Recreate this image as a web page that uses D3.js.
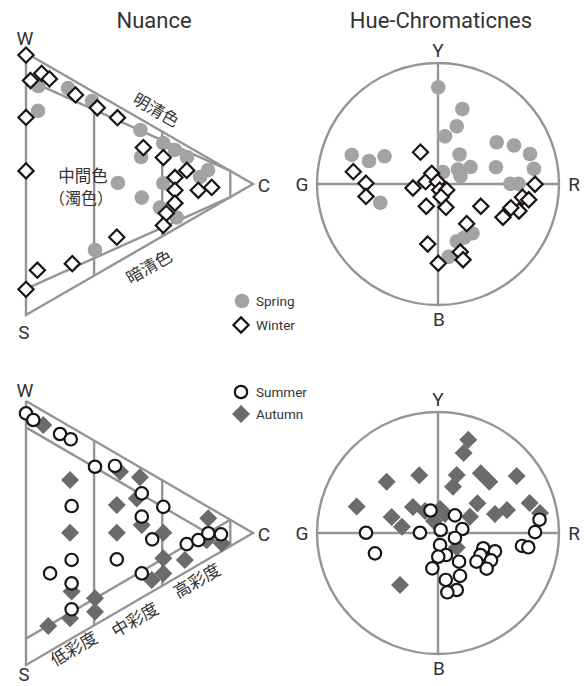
<!DOCTYPE html>
<html><head><meta charset="utf-8">
<script src="https://cdn.jsdelivr.net/npm/d3@7"></script>
<style>
html,body{margin:0;padding:0;background:#fff;}
svg{display:block;}
</style></head>
<body>
<svg id="chart" width="588" height="686"></svg>
<script>
// ---------------- DATA ----------------
// Triangles: c = chroma share (0 at W–S edge, 100 at C), l = lightness (0 at S, 100 at W)
const springTri = [[5.4,87.4],[5.3,77.9],[18.5,86.6],[29.1,81.7],[50.4,70.6],[50.7,60.3],[60.5,65.6],[65.6,63.0],[70.9,60.3],[80.2,55.3],[76.7,52.7],[40.5,50.4],[51.0,44.8],[60.5,50.3],[59.0,41.0],[66.4,37.2],[30.4,24.8]];
const winterTri = [[0,99.2],[2.0,89.5],[6.9,92.2],[10.3,90.1],[0,75.4],[0,55.0],[21.8,84.0],[31.4,79.1],[40.3,75.3],[51.7,63.9],[60.5,60.1],[70.8,55.2],[65.6,52.5],[65.6,47.6],[65.6,42.7],[61.8,38.8],[60.5,34.2],[75.9,47.6],[81.8,48.7],[40.0,29.7],[20.4,19.6],[5.0,17.1],[0,9.8]];
const summerTri = [[0,95.3],[3.2,92.8],[15.0,87.5],[19.7,85.5],[30.4,75.1],[39.2,75.4],[51.0,65.0],[60.5,59.9],[51.0,56.2],[55.6,47.6],[70.8,45.8],[75.9,47.3],[80.3,49.9],[85.9,49.5],[20.1,60.2],[20.1,39.8],[10.6,34.7],[20.1,30.9],[20.1,21.1],[40.0,40.0],[51.0,34.7]];
const autumnTri = [[7.6,90.9],[41.4,73.2],[19.4,70.1],[50.2,71.1],[48.8,63.1],[40.0,60.6],[19.4,50.1],[40.0,50.1],[51.0,53.0],[60.5,50.1],[80.3,55.6],[79.6,47.3],[86.2,46.1],[70.0,39.8],[60.5,40.4],[60.5,34.7],[55.4,32.2],[20.1,27.8],[30.4,25.3],[30.4,20.2],[19.4,17.7],[9.8,14.8]];
// Hue circles: a = R(+)/G(-) axis, b = Y(+)/B(-) axis, radius = 100
const springHue = [[0.2,79.9],[20.1,62.0],[15.5,47.7],[5.8,39.4],[17.8,24.4],[4.1,9.9],[16.5,12.0],[18.6,6.6],[26.9,14.0],[48.5,34.5],[62.8,31.8],[76.0,24.8],[79.3,12.6],[47.9,13.9],[59.9,0.2],[66.4,0.2],[-71.3,24.0],[-57.0,19.0],[-44.2,22.9],[-47.7,-15.5],[28.5,-40.7],[21.7,-44.2],[15.5,-47.3],[8.9,-60.1]];
const winterHue = [[-14.5,26.3],[-70.0,10.2],[-59.5,0.6],[-59.5,-10.3],[-20.7,-3.3],[-10.3,1.9],[-5.2,8.8],[-0.4,1.9],[1.4,-5.0],[7.2,-5.0],[2.6,-10.7],[-9.7,-18.4],[6.6,-19.3],[35.4,-18.4],[23.7,-32.8],[-8.5,-49.6],[0.2,-65.5],[18.4,-56.2],[20.7,-62.6],[80.2,-0.2],[69.8,-10.9],[75.0,-13.0],[66.9,-22.3],[60.2,-19.7],[53.7,-27.5]];
const autumnHue = [[25.0,77.1],[21.2,66.1],[-42.4,42.4],[-15.5,47.7],[15.5,47.9],[12.4,38.3],[35.4,49.3],[42.4,42.4],[65.0,47.1],[-67.2,21.9],[-38.3,13.2],[-29.8,5.2],[-20.7,21.5],[-10.7,18.2],[1.7,19.8],[5.8,15.7],[-3.3,9.9],[32.6,24.5],[26.4,13.5],[47.1,15.7],[57.0,19.0],[75.8,24.8],[84.3,16.5],[15.5,-12.0],[-31.4,-43.0]];
const summerHue = [[-6.2,18.6],[14.0,14.6],[20.1,3.3],[14.0,-4.1],[2.2,2.5],[-14.9,0.2],[-59.5,0.2],[-52.1,-16.8],[1.7,-9.9],[6.6,-18.2],[0.2,-19.6],[-4.7,-29.2],[17.4,-23.7],[18.2,-35.5],[6.4,-38.8],[15.5,-47.1],[7.7,-49.0],[37.4,-12.6],[47.1,-15.1],[35.1,-18.2],[31.8,-23.7],[43.8,-22.6],[40.2,-29.5],[69.4,-10.7],[74.6,-11.8],[80.2,0.7],[83.9,11.0]];

const titles = ["Nuance", "Hue-Chromaticnes"];
const triVertexLabels = ["W", "S", "C"];
const hueAxisLabels = ["Y", "B", "G", "R"];
const nuanceLabels = ["明清色", "暗清色", "中間色", "（濁色）"];
const chromaLabels = ["低彩度", "中彩度", "高彩度"];
const legendTop = ["Spring", "Winter"];
const legendBottom = ["Summer", "Autumn"];

// ---------------- DRAWING ----------------
const svg = d3.select("#chart");
const LINE = "#959595", TXT = "#333";
const LAT = "'Roboto', 'Liberation Sans', sans-serif";
const JP = "'Noto Sans CJK JP', sans-serif";

function diamond(x, y, h) { return `M${x},${y-h}L${x+h},${y}L${x},${y+h}L${x-h},${y}Z`; }

function triangle(g, x0, x1, yBottom, yTop, lines) {
  const x = d3.scaleLinear().domain([0, 100]).range([x0, x1]);
  const y = d3.scaleLinear().domain([0, 100]).range([yBottom, yTop]);
  const line = d3.line().x(d => x(d[0])).y(d => y(d[1]));
  const segs = [[[0,100],[100,50],[0,0],[0,100]], ...lines];
  g.selectAll("path.grid").data(segs).join("path").attr("class","grid")
    .attr("d", line).attr("fill","none").attr("stroke", LINE).attr("stroke-width", 2.4);
  return {x, y};
}

// ---- Top-left triangle (Nuance) ----
const gT1 = svg.append("g");
const t1 = triangle(gT1, 26, 253, 315, 53, [
  [[0,90],[90,55]], [[0,10],[90,45]],
  [[30,78.3],[30,15]], [[60,70],[60,30]], [[90,55],[90,45]]
]);
// ---- Bottom-left triangle ----
const gT2 = svg.append("g");
const t2 = triangle(gT2, 26, 253, 665, 401, [
  [[0,90],[90,45]], [[0,10],[90,55]],
  [[30,85],[30,15]], [[60,70],[60,30]], [[90,55],[90,45]]
]);

// ---- Hue circles ----
function hueCircle(g, cx, cy, r) {
  const a = d3.scaleLinear().domain([-100, 100]).range([cx - r, cx + r]);
  const b = d3.scaleLinear().domain([-100, 100]).range([cy + r, cy - r]);
  g.append("circle").attr("cx", a(0)).attr("cy", b(0)).attr("r", a(100) - a(0))
    .attr("fill","none").attr("stroke", LINE).attr("stroke-width", 2.4);
  g.append("line").attr("x1", a(-100)).attr("x2", a(100)).attr("y1", b(0)).attr("y2", b(0))
    .attr("stroke", LINE).attr("stroke-width", 2.4);
  g.append("line").attr("x1", a(0)).attr("x2", a(0)).attr("y1", b(100)).attr("y2", b(-100))
    .attr("stroke", LINE).attr("stroke-width", 2.4);
  return {a, b};
}
const gC1 = svg.append("g");
const c1 = hueCircle(gC1, 438, 184, 121);
const gC2 = svg.append("g");
const c2 = hueCircle(gC2, 438, 533, 121);

// marker helpers
function greyDots(g, data, sx, sy) {
  g.append("g").selectAll("circle").data(data).join("circle")
    .attr("cx", d => sx(d[0])).attr("cy", d => sy(d[1])).attr("r", 7.3)
    .attr("fill", "#a3a3a3");
}
function openDiamonds(g, data, sx, sy) {
  g.append("g").selectAll("path").data(data).join("path")
    .attr("d", d => diamond(sx(d[0]), sy(d[1]), 7.6))
    .attr("fill", "#fff").attr("stroke", "#1a1414").attr("stroke-width", 2.2);
}
function darkDiamonds(g, data, sx, sy) {
  g.append("g").selectAll("path").data(data).join("path")
    .attr("d", d => diamond(sx(d[0]), sy(d[1]), 9))
    .attr("fill", "#6b6b6b");
}
function openCircles(g, data, sx, sy) {
  g.append("g").selectAll("circle").data(data).join("circle")
    .attr("cx", d => sx(d[0])).attr("cy", d => sy(d[1])).attr("r", 6.2)
    .attr("fill", "#fff").attr("stroke", "#1a1414").attr("stroke-width", 2.2);
}

greyDots(gT1, springTri, t1.x, t1.y);
openDiamonds(gT1, winterTri, t1.x, t1.y);
greyDots(gC1, springHue, c1.a, c1.b);
openDiamonds(gC1, winterHue, c1.a, c1.b);
darkDiamonds(gT2, autumnTri, t2.x, t2.y);
openCircles(gT2, summerTri, t2.x, t2.y);
darkDiamonds(gC2, autumnHue, c2.a, c2.b);
openCircles(gC2, summerHue, c2.a, c2.b);

// ---------------- TEXT ----------------
function txt(x, y, s, size, fam, anchor, rot) {
  const t = svg.append("text").attr("x", x).attr("y", y).text(s)
    .attr("font-size", size).attr("font-family", fam).attr("fill", TXT)
    .attr("text-anchor", anchor || "middle");
  if (rot) t.attr("transform", `rotate(${rot},${x},${y})`);
  return t;
}
txt(154, 28, titles[0], 22, LAT);
txt(441, 28, titles[1], 22, LAT);

// triangle vertex labels
txt(t1.x(0) - 1, t1.y(100) - 8, triVertexLabels[0], 19, LAT);
txt(t1.x(0) - 2, t1.y(0) + 24, triVertexLabels[1], 19, LAT);
txt(t1.x(100) + 11, t1.y(50) + 8, triVertexLabels[2], 19, LAT);
txt(t2.x(0) - 1, t2.y(100) - 4, triVertexLabels[0], 19, LAT);
txt(t2.x(0) - 2, t2.y(0) + 16, triVertexLabels[1], 18.5, LAT);
txt(t2.x(100) + 11, t2.y(50) + 8, triVertexLabels[2], 19, LAT);
// hue circle axis labels
[c1, c2].forEach(c => {
  txt(c.a(0), c.b(100) - 6, hueAxisLabels[0], 19, LAT);
  txt(c.a(0) + 1, c.b(-100) + 21, hueAxisLabels[1], 19, LAT);
  txt(c.a(-100) - 15, c.b(0) + 7, hueAxisLabels[2], 19, LAT);
  txt(c.a(100) + 15, c.b(0) + 7, hueAxisLabels[3], 19, LAT);
});

// Nuance region labels
txt(153, 115, nuanceLabels[0], 16.5, JP, "middle", 30);
txt(152, 272, nuanceLabels[1], 16.5, JP, "middle", -30);
txt(83, 182, nuanceLabels[2], 16.5, JP);
txt(81, 204, nuanceLabels[3], 16, JP);
// chroma labels
txt(77, 654, chromaLabels[0], 17, JP, "middle", -30);
txt(138, 625, chromaLabels[1], 17, JP, "middle", -30);
txt(200, 586, chromaLabels[2], 17, JP, "middle", -30);

// Legends
svg.append("circle").attr("cx", 242).attr("cy", 301).attr("r", 7.3).attr("fill", "#a3a3a3");
svg.append("path").attr("d", diamond(241, 325, 7.6)).attr("fill","#fff").attr("stroke","#1a1414").attr("stroke-width",2.2);
txt(256, 306, legendTop[0], 13.5, LAT, "start");
txt(256, 330, legendTop[1], 13.5, LAT, "start");
svg.append("circle").attr("cx", 241).attr("cy", 392).attr("r", 6.2).attr("fill","#fff").attr("stroke","#1a1414").attr("stroke-width",2.2);
svg.append("path").attr("d", diamond(241, 414, 9)).attr("fill","#6b6b6b");
txt(256, 397, legendBottom[0], 13.5, LAT, "start");
txt(256, 419, legendBottom[1], 13.5, LAT, "start");
</script>
</body></html>
